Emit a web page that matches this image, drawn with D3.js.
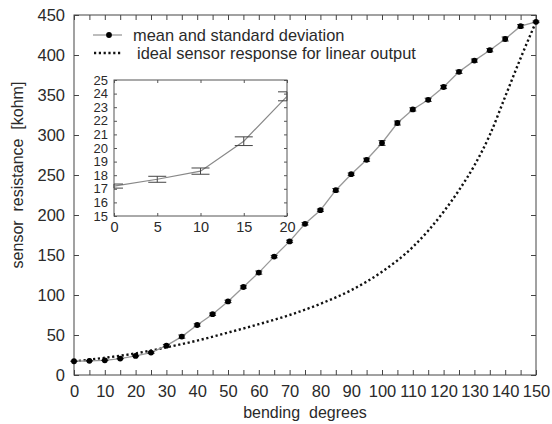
<!DOCTYPE html>
<html>
<head>
<meta charset="utf-8">
<script src="https://cdn.jsdelivr.net/npm/d3@7"></script>
<style>
  body { margin: 0; background: #fff; }
  svg text { font-family: "Liberation Sans", Arial, sans-serif; fill: #2a2a2a; }
</style>
</head>
<body>
<svg id="chart" width="552" height="424"></svg>
<script>
// bending angles (degrees) for the measured series
const angles = [0, 5, 10, 15, 20, 25, 30, 35, 40, 45, 50, 55, 60, 65, 70, 75,
  80, 85, 90, 95, 100, 105, 110, 115, 120, 125, 130, 135, 140, 145, 150];
// mean sensor resistance (kohm)
const meanRes = [17.2, 17.7, 18.3, 20.5, 23.8, 28, 36.7, 48, 62.5, 76, 92, 110, 128, 148, 167, 189,
  206, 231, 251, 269, 290, 315, 332, 344, 360, 379, 393, 406, 420, 436, 441.5];
// standard deviation (kohm)
const stdRes = [0.15, 0.22, 0.23, 0.32, 0.33, 1, 1.5, 2, 1.5, 1.5, 1.5, 1.5, 2, 1.5, 1.5, 1.5,
  1.5, 2, 1.5, 2, 3, 2.5, 2, 2, 2, 2, 2, 2, 2.5, 2, 1];

// ideal sensor response for linear output
const idealAngles = [0, 10, 20, 30, 40, 50, 60, 70, 80, 90, 100, 110, 120, 125, 130, 135, 140, 145, 150];
const idealRes = [17, 21.5, 27, 34.5, 43, 53, 63.5, 75, 89, 106, 129, 160, 204, 231, 262, 300, 348, 396, 441.5];

// inset (zoom 0..20 degrees)
const insetCount = 5;

const xTicks = d3.range(0, 151, 10);
const yTicks = d3.range(0, 451, 50);
const insetXTicks = [0, 5, 10, 15, 20];
const insetYTicks = d3.range(15, 26, 1);

const legendLabels = ["mean and standard deviation", "ideal sensor response for linear output"];

const svg = d3.select("#chart");
const m = { left: 74, right: 536, top: 15, bottom: 375 };

const x = d3.scaleLinear().domain([0, 150]).range([m.left, m.right]);
const y = d3.scaleLinear().domain([0, 450]).range([m.bottom, m.top]);

// axes, ticks pointing inward
const tickFont = "16.5px";
svg.append("g").attr("transform", `translate(0,${m.bottom})`)
  .call(d3.axisBottom(x).tickValues(d3.range(0, 151, 5)).tickSizeInner(-5).tickSizeOuter(0)
    .tickPadding(10).tickFormat(d => xTicks.includes(d) ? d : ""))
  .call(g => g.select(".domain").remove())
  .call(g => g.selectAll("line").attr("stroke", "#444"))
  .call(g => g.selectAll("text").attr("font-size", tickFont).attr("fill", "#2a2a2a"));
svg.append("g").attr("transform", `translate(0,${m.top})`)
  .call(d3.axisTop(x).tickValues(d3.range(0, 151, 5)).tickSizeInner(-5).tickSizeOuter(0).tickFormat(""))
  .call(g => g.select(".domain").remove())
  .call(g => g.selectAll("line").attr("stroke", "#444"));
svg.append("g").attr("transform", `translate(${m.left},0)`)
  .call(d3.axisLeft(y).tickValues(yTicks).tickSizeInner(-5).tickSizeOuter(0).tickPadding(9))
  .call(g => g.select(".domain").remove())
  .call(g => g.selectAll("line").attr("stroke", "#444"))
  .call(g => g.selectAll("text").attr("font-size", tickFont).attr("fill", "#2a2a2a"));
svg.append("g").attr("transform", `translate(${m.right},0)`)
  .call(d3.axisRight(y).tickValues(yTicks).tickSizeInner(-5).tickSizeOuter(0).tickFormat(""))
  .call(g => g.select(".domain").remove())
  .call(g => g.selectAll("line").attr("stroke", "#444"));

svg.append("rect")
  .attr("x", m.left).attr("y", m.top)
  .attr("width", m.right - m.left).attr("height", m.bottom - m.top)
  .attr("fill", "none").attr("stroke", "#444").attr("stroke-width", 1);

// axis titles
svg.append("text").attr("x", 305).attr("y", 418).attr("text-anchor", "middle")
  .attr("font-size", "16px").attr("xml:space", "preserve").text("bending  degrees");
svg.append("text").attr("transform", "translate(23,175) rotate(-90)").attr("text-anchor", "middle")
  .attr("font-size", "16px").attr("xml:space", "preserve").text("sensor  resistance  [kohm]");

// ideal response (dotted)
const idealLine = d3.line().curve(d3.curveMonotoneX)
  .x((d, i) => x(idealAngles[i])).y(d => y(d));
svg.append("path").datum(idealRes)
  .attr("d", idealLine).attr("fill", "none").attr("stroke", "#111")
  .attr("stroke-width", 2.4).attr("stroke-dasharray", "2.2,2.6");

// measured mean
const meanLine = d3.line().x((d, i) => x(angles[i])).y(d => y(d));
svg.append("path").datum(meanRes)
  .attr("d", meanLine).attr("fill", "none").attr("stroke", "#999").attr("stroke-width", 1.3);

const errs = svg.append("g").attr("stroke", "#333").attr("stroke-width", 1);
meanRes.forEach((v, i) => {
  const cx = x(angles[i]);
  const y0 = y(v - stdRes[i]), y1 = y(v + stdRes[i]);
  errs.append("line").attr("x1", cx).attr("x2", cx).attr("y1", y0).attr("y2", y1);
  errs.append("line").attr("x1", cx - 3.5).attr("x2", cx + 3.5).attr("y1", y0).attr("y2", y0);
  errs.append("line").attr("x1", cx - 3.5).attr("x2", cx + 3.5).attr("y1", y1).attr("y2", y1);
});

svg.append("g").selectAll("circle").data(meanRes).join("circle")
  .attr("cx", (d, i) => x(angles[i])).attr("cy", d => y(d))
  .attr("r", 2.9).attr("fill", "#000");

// legend
const leg = svg.append("g");
leg.append("line").attr("x1", 93).attr("x2", 122).attr("y1", 35).attr("y2", 35)
  .attr("stroke", "#999").attr("stroke-width", 1.3);
leg.append("circle").attr("cx", 109).attr("cy", 35).attr("r", 2.9).attr("fill", "#000");
leg.append("line").attr("x1", 94).attr("x2", 121).attr("y1", 53).attr("y2", 53)
  .attr("stroke", "#111").attr("stroke-width", 2.4).attr("stroke-dasharray", "2.2,2.6");
leg.append("text").attr("x", 133).attr("y", 41).attr("font-size", "16.4px").text(legendLabels[0]);
leg.append("text").attr("x", 137).attr("y", 59).attr("font-size", "16.4px").text(legendLabels[1]);

// inset
const im = { left: 114, right: 287, top: 80, bottom: 216 };
const xi = d3.scaleLinear().domain([0, 20]).range([im.left, im.right]);
const yi = d3.scaleLinear().domain([15, 25]).range([im.bottom, im.top]);
const inset = svg.append("g");
inset.append("rect")
  .attr("x", im.left).attr("y", im.top)
  .attr("width", im.right - im.left).attr("height", im.bottom - im.top)
  .attr("fill", "#fff").attr("stroke", "#555").attr("stroke-width", 1);

inset.append("g").attr("transform", `translate(0,${im.bottom})`)
  .call(d3.axisBottom(xi).tickValues(insetXTicks).tickSizeInner(-3).tickSizeOuter(0).tickPadding(6))
  .call(g => g.select(".domain").remove())
  .call(g => g.selectAll("line").attr("stroke", "#555"))
  .call(g => g.selectAll("text").attr("font-size", "14.5px").attr("fill", "#2a2a2a"));
inset.append("g").attr("transform", `translate(0,${im.top})`)
  .call(d3.axisTop(xi).tickValues(insetXTicks).tickSizeInner(-3).tickSizeOuter(0).tickFormat(""))
  .call(g => g.select(".domain").remove())
  .call(g => g.selectAll("line").attr("stroke", "#555"));
inset.append("g").attr("transform", `translate(${im.left},0)`)
  .call(d3.axisLeft(yi).tickValues(insetYTicks).tickSizeInner(-3).tickSizeOuter(0).tickPadding(6))
  .call(g => g.select(".domain").remove())
  .call(g => g.selectAll("line").attr("stroke", "#555"))
  .call(g => g.selectAll("text").attr("font-size", "13px").attr("fill", "#2a2a2a"));
inset.append("g").attr("transform", `translate(${im.right},0)`)
  .call(d3.axisRight(yi).tickValues(insetYTicks).tickSizeInner(-3).tickSizeOuter(0).tickFormat(""))
  .call(g => g.select(".domain").remove())
  .call(g => g.selectAll("line").attr("stroke", "#555"));

const insetMean = meanRes.slice(0, insetCount);
const insetStd = stdRes.slice(0, insetCount);
inset.append("path").datum(insetMean)
  .attr("d", d3.line().x((d, i) => xi(angles[i])).y(d => yi(d)))
  .attr("fill", "none").attr("stroke", "#888").attr("stroke-width", 1.2);
const ierr = inset.append("g").attr("stroke", "#444").attr("stroke-width", 1);
insetMean.forEach((v, i) => {
  const cx = xi(angles[i]);
  const y0 = yi(v - insetStd[i]), y1 = yi(v + insetStd[i]);
  ierr.append("line").attr("x1", cx).attr("x2", cx).attr("y1", y0).attr("y2", y1);
  [y0, y1].forEach(yy => ierr.append("line")
    .attr("x1", Math.max(im.left, cx - 9)).attr("x2", Math.min(im.right, cx + 9))
    .attr("y1", yy).attr("y2", yy));
});
</script>
</body>
</html>
